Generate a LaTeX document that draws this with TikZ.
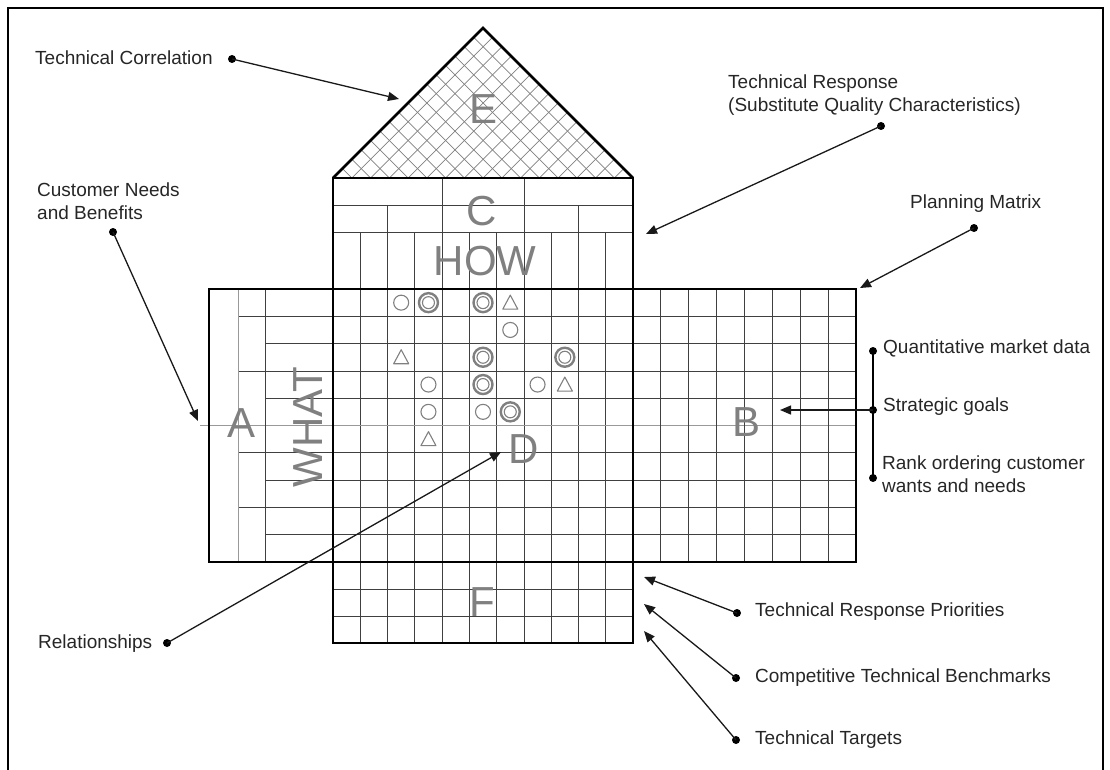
\documentclass[tikz,border=0pt]{standalone}
\usepackage{fontspec}
\setmainfont{Liberation Sans}
\usetikzlibrary{arrows.meta}

\begin{document}
\begin{tikzpicture}[x=1pt,y=-1pt,
  frame/.style={line width=1.8pt, black},
  outline/.style={line width=2.6pt, black, line join=miter},
  gridline/.style={line width=0.8pt, black!75},
  softline/.style={line width=0.8pt, black!40},
  hatch/.style={line width=0.7pt, black!50},
  bigletter/.style={text=black!50, font=\fontsize{42}{42}\selectfont, inner sep=0pt},
  callout/.style={font=\fontsize{19}{23}\selectfont, text=black!85, inner sep=0pt, anchor=west, align=left},
  pindot/.style={circle, fill=black, inner sep=0pt, minimum size=8pt},
  pointer/.style={line width=1.3pt, black!90, -{Triangle[length=11pt,width=9pt]}},
  relmark/.style={draw=black!50, line width=1.1pt},
  strongmark/.style={draw=black!50, line width=2.4pt},
]
\useasboundingbox (0,0) rectangle (1110,770);

% page frame
\draw[frame] (8,770) -- (8,8) -- (1103,8) -- (1103,770);

% ---------- roof (E): cross-hatched correlation triangle
\begin{scope}
  \clip (333,178) -- (483,28) -- (633,178) -- cycle;
  \foreach \i in {-8,...,16} {
    \draw[hatch] ({333+\i*18.75},178) -- ({333+\i*18.75+150},28);
    \draw[hatch] ({333+\i*18.75+150},178) -- ({333+\i*18.75},28);
  }
\end{scope}

% ---------- C: technical response columns
\draw[gridline] (333,205) -- (633,205);
\draw[gridline] (333,232) -- (633,232);
\foreach \k in {4,7}   \draw[gridline] ({333+\k*300/11},178) -- ({333+\k*300/11},643);
\foreach \k in {2,9}   \draw[gridline] ({333+\k*300/11},205) -- ({333+\k*300/11},643);
\foreach \k in {1,3,5,6,8,10} \draw[gridline] ({333+\k*300/11},232) -- ({333+\k*300/11},643);

% ---------- main band rows (A, D, B)
\foreach \j in {2,4,7,9} \draw[gridline] (265,{289+\j*27.3}) -- (856,{289+\j*27.3});
\foreach \j in {1,3,6,8} \draw[gridline] (238,{289+\j*27.3}) -- (856,{289+\j*27.3});
\draw[softline] (200,{289+5*27.3}) -- (856,{289+5*27.3});

% A: hierarchy of customer needs
\draw[softline] (238,289) -- (238,562);
\draw[gridline] (265,289) -- (265,562);

% B: planning matrix columns
\foreach \m in {1,...,7} \draw[gridline] ({633+\m*223/8},289) -- ({633+\m*223/8},562);

% ---------- F: rows of the bottom block
\draw[gridline] (333,589) -- (633,589);
\draw[gridline] (333,616) -- (633,616);

% ---------- heavy outlines
\draw[outline] (333,178) -- (483,28) -- (633,178);
\draw[outline] (333,178) rectangle (633,289);
\draw[outline] (209,289) rectangle (856,562);
\draw[outline] (333,289) -- (333,562);
\draw[outline] (633,289) -- (633,562);
\draw[outline] (333,562) rectangle (633,643);

% ---------- relationship symbols in D
\foreach \c/\r in {3/1,7/2,4/4,8/4,4/5,6/5}
  \draw[relmark] ({333+(\c-0.5)*300/11},{289+(\r-0.5)*27.3}) circle[radius=7.5pt];
\foreach \c/\r in {4/1,6/1,6/3,9/3,6/4,7/5} {
  \draw[strongmark] ({333+(\c-0.5)*300/11},{289+(\r-0.5)*27.3}) circle[radius=9.5pt];
  \draw[relmark] ({333+(\c-0.5)*300/11},{289+(\r-0.5)*27.3}) circle[radius=6pt];
}
\foreach \c/\r in {7/1,3/3,9/4,4/6}
  \draw[relmark, line join=round]
    ({333+(\c-0.5)*300/11-7.5},{289+(\r-0.5)*27.3+6.5}) --
    ({333+(\c-0.5)*300/11+7.5},{289+(\r-0.5)*27.3+6.5}) --
    ({333+(\c-0.5)*300/11},{289+(\r-0.5)*27.3-7.5}) -- cycle;

% ---------- room letters
\node[bigletter] (lblE) at (483,109) {E};
\node[bigletter] (lblC) at (482,211) {C};
\node[bigletter] (lblHOW) at (485,261) {HOW};
\node[bigletter] (lblA) at (242,423) {A};
\node[bigletter, rotate=90] (lblWHAT) at (308,427) {WHAT};
\node[bigletter] (lblD) at (524,449) {D};
\node[bigletter] (lblB) at (746,422) {B};
\node[bigletter] (lblF) at (482,602) {F};

% ---------- callouts
\node[callout] (tcText) at (35,58) {Technical Correlation};
\node[pindot] (tcDot) at (232,59) {};
\coordinate (tcTip) at (399,99);
\draw[pointer] (tcDot.center) -- (tcTip);

\node[callout] (cnText) at (37,201) {Customer Needs\\and Benefits};
\node[pindot] (cnDot) at (113,232) {};
\coordinate (cnTip) at (198,421);
\draw[pointer] (cnDot.center) -- (cnTip);

\node[callout] (trText) at (728,95) {Technical Response\\(Substitute Quality Characteristics)};
\node[pindot] (trDot) at (881,126) {};
\coordinate (trTip) at (646,234);
\draw[pointer] (trDot.center) -- (trTip);

\node[callout] (pmText) at (910,204) {Planning Matrix};
\node[pindot] (pmDot) at (974,228) {};
\coordinate (pmTip) at (860,288);
\draw[pointer] (pmDot.center) -- (pmTip);

\node[callout] (qmText) at (883,348) {Quantitative market data};
\node[callout] (sgText) at (883,407) {Strategic goals};
\node[callout] (roText) at (882,474) {Rank ordering customer\\wants and needs};
\node[pindot] (qmDot) at (873,351) {};
\node[pindot] (sgDot) at (873,410) {};
\node[pindot] (roDot) at (873,478) {};
\draw[line width=1.3pt] (qmDot.center) -- (roDot.center);
\coordinate (sgTip) at (780,410);
\draw[pointer] (sgDot.center) -- (sgTip);

\node[callout] (rlText) at (38,644) {Relationships};
\node[pindot] (rlDot) at (167,643) {};
\coordinate (rlTip) at (501,452);
\draw[pointer] (rlDot.center) -- (rlTip);

\node[callout] (tpText) at (755,612) {Technical Response Priorities};
\node[pindot] (tpDot) at (737,613) {};
\coordinate (tpTip) at (644,577);
\draw[pointer] (tpDot.center) -- (tpTip);

\node[callout] (cbText) at (755,678) {Competitive Technical Benchmarks};
\node[pindot] (cbDot) at (736,678) {};
\coordinate (cbTip) at (644,604);
\draw[pointer] (cbDot.center) -- (cbTip);

\node[callout] (ttText) at (755,740) {Technical Targets};
\node[pindot] (ttDot) at (736,740) {};
\coordinate (ttTip) at (644,631);
\draw[pointer] (ttDot.center) -- (ttTip);
\end{tikzpicture}
\end{document}
